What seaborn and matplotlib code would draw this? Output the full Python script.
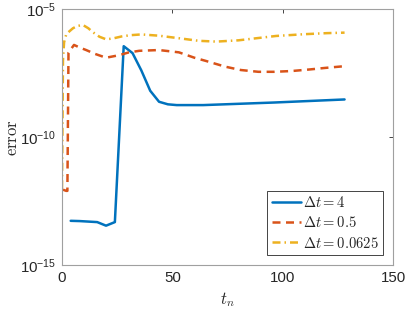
import numpy as np
import pandas as pd
import matplotlib
matplotlib.use('Agg')
import matplotlib.pyplot as plt
import seaborn as sns

# log10(error)
t_dt4 = [4, 8, 12, 16, 20, 24, 28, 32, 36, 40, 44, 48, 52, 64, 80, 96, 112, 128]
e_dt4 = [-13.27, -13.28, -13.30, -13.32, -13.46, -13.32, -6.45, -6.72, -7.40,
         -8.19, -8.62, -8.72, -8.75, -8.75, -8.70, -8.65, -8.59, -8.53]

t_dt05 = [0.5, 1, 2, 2.5, 3, 5.5, 8, 11, 15, 20, 26, 30, 35, 44, 53, 60, 65,
          74, 81, 89, 96, 104, 112, 119, 128]
e_dt05 = [-12.05, -12.07, -12.1, -12.1, -6.7, -6.4, -6.5, -6.6, -6.75, -6.9,
          -6.8, -6.7, -6.63, -6.6, -6.69, -6.9, -7.02, -7.25, -7.38, -7.45,
          -7.45, -7.42, -7.36, -7.3, -7.23]

t_dt00625 = [0.0625, 0.5, 1, 2, 3, 5, 7, 9.5, 12, 14, 17, 20, 23, 27, 31, 36,
             44, 54, 62, 70, 80, 90, 97, 110, 120, 128]
e_dt00625 = [-12.0, -7.0, -6.3, -5.98, -5.9, -5.75, -5.66, -5.62, -5.75, -5.9,
             -6.08, -6.18, -6.15, -6.07, -6.02, -5.99, -6.04, -6.15, -6.24,
             -6.27, -6.22, -6.12, -6.05, -5.98, -5.94, -5.92]

labels = [r'$\Delta t = 4$', r'$\Delta t = 0.5$', r'$\Delta t = 0.0625$']
colors = ['#0072BD', '#D95319', '#EDB120']
styles = ['-', (0, (3.2, 2.2)), (0, (3.2, 1.6, 0.6, 1.6))]

sns.set_style('white')
plt.rcParams['font.family'] = ['Liberation Sans', 'DejaVu Sans']
plt.rcParams['mathtext.fontset'] = 'cm'

fig = plt.figure(figsize=(4.07, 3.13), dpi=100)
ax = fig.add_axes([0.152, 0.153, 0.814, 0.818])

series = [(t_dt4, e_dt4), (t_dt05, e_dt05), (t_dt00625, e_dt00625)]
for (t, e), lab, c, ls in zip(series, labels, colors, styles):
    df = pd.DataFrame({'t': t, 'err': 10.0 ** np.array(e)})
    sns.lineplot(data=df, x='t', y='err', ax=ax, color=c, linestyle=ls,
                 linewidth=1.8, label=lab, sort=False)

ax.set_yscale('log')
ax.set_xlim(0, 150)
ax.set_ylim(1e-15, 1e-5)
ax.set_xticks([0, 50, 100, 150])
ax.set_yticks([1e-15, 1e-10, 1e-5])
ax.set_yticklabels([r'$\mathregular{10^{-15}}$', r'$\mathregular{10^{-10}}$',
                    r'$\mathregular{10^{-5}}$'])
ax.yaxis.set_minor_locator(matplotlib.ticker.NullLocator())
ax.tick_params(direction='in', length=3, width=0.6, top=True, right=True,
               labelsize=10.8, colors='#262626', pad=4)
for sp in ax.spines.values():
    sp.set_visible(True)
    sp.set_color('#a0a0a0')
    sp.set_linewidth(0.8)

ax.set_xlabel(r'$t_n$', fontsize=12, labelpad=4)
ax.set_ylabel(r'$\mathrm{error}$', fontsize=12, labelpad=0)

leg = ax.legend(loc='lower right', fontsize=10.5, handlelength=2.0,
                handletextpad=0.15, borderpad=0.3, labelspacing=0.35,
                fancybox=False, framealpha=1, borderaxespad=0.7)
leg.get_frame().set_edgecolor('#262626')
leg.get_frame().set_linewidth(0.6)

fig.savefig('out.png', dpi=100)
